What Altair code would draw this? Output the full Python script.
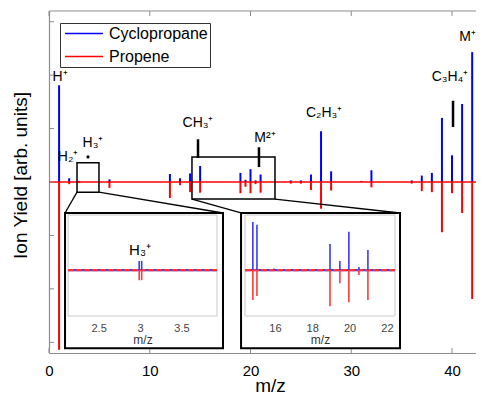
import altair as alt
import pandas as pd

# ---------------- data ----------------
series_names = ["Cyclopropane", "Propene"]
series_colors = ["#0000ff", "#ff0000"]

mz = [1, 2, 3, 6, 12, 13, 14, 15, 19, 19.5, 20, 20.5, 21, 24, 25, 26, 27, 28,
      31, 32, 36, 37, 38, 39, 40, 41, 42, 43]
cyclopropane = [1.81, 0.07, 0.02, 0.05, 0.15, 0.07, 0.16, 0.30, 0.17, 0.04, 0.24,
                0.03, 0.14, 0.03, 0.03, 0.14, 0.95, 0.20, 0.02, 0.22, 0.03, 0.12,
                0.17, 1.20, 0.50, 1.46, 2.43, 0.17]
propene = [-3.14, -0.04, -0.02, -0.11, -0.30, -0.06, -0.19, -0.20, -0.21, -0.09,
           -0.21, -0.04, -0.20, -0.03, -0.03, -0.15, -0.50, -0.16, 0.0, -0.10,
           -0.03, -0.17, -0.19, -0.94, -0.21, -0.58, -2.19, -0.15]

# inset 1 (around m/z 3)
inset1_mz = [2.99, 3.02]
inset1_cyclo = [0.30, 0.30]
inset1_prop = [-0.33, -0.33]

# inset 2 (m/z 14.5 - 22)
inset2_mz = [14.82, 15.04, 15.95, 18.95, 19.48, 19.96, 20.5, 20.98, 21.5]
inset2_cyclo = [1.57, 1.48, 0.05, 0.85, 0.30, 1.25, 0.10, 0.66, 0.03]
inset2_prop = [-0.98, -0.85, 0.0, -1.18, -0.43, -1.05, -0.16, -0.98, 0.0]

# ion labels
ion_labels = ["H\u207a", "H\u2082\u207a", "H\u2083\u207a", "CH\u2083\u207a",
              "M\u00b2\u207a", "C\u2082H\u2083\u207a", "C\u2083H\u2084\u207a", "M\u207a"]
label_mz = [1.09, 1.89, 4.37, 14.79, 21.44, 27.3, 39.8, 41.55]
label_y = [1.96, 0.47, 0.73, 1.10, 0.82, 1.29, 1.96, 2.71]

# black marker bars
marker_mz = [14.79, 20.84, 40.1]
marker_lo = [0.45, 0.28, 1.03]
marker_hi = [0.80, 0.65, 1.52]

# small dot below H3+ label
dot_mz = [3.87]
dot_y = [0.47]

x_ticks = [0, 10, 20, 30, 40]
y_ticks = [-3, -2, -1, 0, 1, 2, 3]

# ---------------- layout ----------------
W, H = 427, 342
XMAX = 42.38
AX_COL = "#8c8c8c"

zoom_boxes = pd.DataFrame({"x0": [2.78, 14.19], "x1": [4.96, 22.43],
                           "y0": [-0.19, -0.32], "y1": [0.36, 0.47]})
inset_boxes = pd.DataFrame({"x0": [1.59, 19.06], "x1": [17.27, 34.84],
                            "y0": [-3.11, -3.11], "y1": [-0.58, -0.58]})
connectors = pd.DataFrame({"x0": [2.78, 4.96, 14.19, 22.43],
                           "y0": [-0.19, -0.19, -0.32, -0.32],
                           "x1": [1.59, 17.27, 19.06, 34.84],
                           "y1": [-0.58, -0.58, -0.58, -0.58]})

xs = alt.Scale(domain=[0, XMAX], nice=False, zero=False, padding=0)
ys = alt.Scale(domain=[-3.2, 3.2], nice=False, zero=False, padding=0)

x_axis = alt.Axis(title="m/z", values=x_ticks, format="d", ticks=False, grid=False,
                  orient="bottom", domainColor=AX_COL, domainWidth=1.2,
                  labelFontSize=15, labelColor="black", labelPadding=10,
                  labelFlush=False, titleFontSize=19, titleFontWeight="normal",
                  titleColor="black", titleBaseline="alphabetic",
                  titleX=221, titleY=38)
y_axis = alt.Axis(title="Ion Yield [arb. units]", labels=False, ticks=False,
                  grid=False, orient="left", domainColor=AX_COL, domainWidth=1.2,
                  titleFontSize=19, titleFontWeight="normal", titleColor="black",
                  titleBaseline="alphabetic", titleAngle=270, titleX=-23, titleY=164)

df_main = pd.concat([
    pd.DataFrame({"mz": mz, "intensity": cyclopropane, "series": series_names[0]}),
    pd.DataFrame({"mz": mz, "intensity": propene, "series": series_names[1]}),
])

legend = alt.Legend(title=None, orient="none", legendX=11, legendY=12,
                    symbolType="stroke", symbolSize=1444, symbolStrokeWidth=1.5,
                    clipHeight=17, rowPadding=6, padding=2, symbolOffset=2,
                    labelOffset=5, labelFontSize=16, labelColor="black",
                    strokeColor="#333333", fillColor="white")

peaks = alt.Chart(df_main).mark_rule(strokeWidth=2).encode(
    x=alt.X("mz:Q", scale=xs, axis=x_axis),
    y=alt.Y("intensity:Q", scale=ys, axis=y_axis),
    y2=alt.datum(0),
    color=alt.Color("series:N", scale=alt.Scale(domain=series_names, range=series_colors),
                    legend=legend),
)

baseline = alt.Chart(pd.DataFrame({"v": [0]})).mark_rule(color="#ff0000", strokeWidth=1.5).encode(
    y=alt.Y("v:Q", scale=ys, axis=y_axis), x=alt.value(0), x2=alt.value(W))

top_frame = alt.Chart(pd.DataFrame({"v": [3.2]})).mark_rule(color=AX_COL, strokeWidth=1.2).encode(
    y=alt.Y("v:Q", scale=ys, axis=y_axis), x=alt.value(0), x2=alt.value(W))

df_xt = pd.DataFrame({"t": x_ticks})
df_yt = pd.DataFrame({"t": y_ticks})
bottom_ticks = alt.Chart(df_xt).mark_rule(color=AX_COL).encode(
    x=alt.X("t:Q", scale=xs, axis=x_axis), y=alt.value(H), y2=alt.value(H - 5))
top_ticks = alt.Chart(df_xt).mark_rule(color=AX_COL).encode(
    x=alt.X("t:Q", scale=xs, axis=x_axis), y=alt.value(0), y2=alt.value(5))
left_ticks = alt.Chart(df_yt).mark_rule(color=AX_COL).encode(
    y=alt.Y("t:Q", scale=ys, axis=y_axis), x=alt.value(0), x2=alt.value(5))

zoom_rects = alt.Chart(zoom_boxes).mark_rect(fillOpacity=0, stroke="black", strokeWidth=1.5).encode(
    x=alt.X("x0:Q", scale=xs, axis=x_axis), x2="x1:Q",
    y=alt.Y("y0:Q", scale=ys, axis=y_axis), y2="y1:Q")
conn = alt.Chart(connectors).mark_rule(color="black", strokeWidth=1.3).encode(
    x=alt.X("x0:Q", scale=xs, axis=x_axis), x2="x1:Q",
    y=alt.Y("y0:Q", scale=ys, axis=y_axis), y2="y1:Q")
inset_rects = alt.Chart(inset_boxes).mark_rect(fill="white", stroke="black", strokeWidth=2).encode(
    x=alt.X("x0:Q", scale=xs, axis=x_axis), x2="x1:Q",
    y=alt.Y("y0:Q", scale=ys, axis=y_axis), y2="y1:Q")

markers = alt.Chart(pd.DataFrame({"mz": marker_mz, "lo": marker_lo, "hi": marker_hi})).mark_rule(
    color="black", strokeWidth=2.5).encode(
    x=alt.X("mz:Q", scale=xs, axis=x_axis),
    y=alt.Y("lo:Q", scale=ys, axis=y_axis), y2="hi:Q")

dot = alt.Chart(pd.DataFrame({"mz": dot_mz, "v": dot_y})).mark_point(
    filled=True, color="black", size=10, opacity=1).encode(
    x=alt.X("mz:Q", scale=xs, axis=x_axis), y=alt.Y("v:Q", scale=ys, axis=y_axis))

labels = alt.Chart(pd.DataFrame({"mz": label_mz, "v": label_y, "label": ion_labels})).mark_text(
    fontSize=14, color="black", baseline="middle", align="center").encode(
    x=alt.X("mz:Q", scale=xs, axis=x_axis), y=alt.Y("v:Q", scale=ys, axis=y_axis),
    text="label:N")

main = alt.layer(peaks, baseline, top_frame, bottom_ticks, top_ticks, left_ticks,
                 zoom_rects, conn, inset_rects, markers, dot, labels)

# ---------------- insets ----------------
IY_RANGE = [305, 204]
IY_DOMAIN = [-1.5, 1.8]


def make_inset(dom, rng, tick_vals, mzs, cyc, prp, label=None, label_pos=None):
    ixs = alt.Scale(domain=dom, range=rng, nice=False, zero=False, padding=0)
    iys = alt.Scale(domain=IY_DOMAIN, range=IY_RANGE, nice=False, zero=False, padding=0)
    ax = alt.Axis(title="m/z", values=tick_vals, format="~g", orient="bottom",
                  offset=IY_RANGE[0] - H, ticks=False, domain=False, grid=False,
                  labelFontSize=11, labelColor="#444444", labelPadding=6,
                  labelFlush=False, titleFontSize=12, titleFontWeight="normal",
                  titleColor="#333333", titlePadding=1, zindex=2)
    frame = alt.Chart(pd.DataFrame({"x0": [dom[0]], "x1": [dom[1]],
                                    "y0": [IY_DOMAIN[0]], "y1": [IY_DOMAIN[1]]})).mark_rect(
        fillOpacity=0, stroke="#c8c8c8", strokeWidth=1).encode(
        x=alt.X("x0:Q", scale=ixs, axis=ax), x2="x1:Q",
        y=alt.Y("y0:Q", scale=iys, axis=None), y2="y1:Q")
    base_df = pd.DataFrame({"x0": [dom[0]], "x1": [dom[1]], "v": [0]})
    base_b = alt.Chart(base_df).mark_rule(color="#3344ff", strokeWidth=2.4).encode(
        x=alt.X("x0:Q", scale=ixs, axis=ax), x2="x1:Q",
        y=alt.Y("v:Q", scale=iys, axis=None))
    base_r = alt.Chart(base_df).mark_rule(color="#ff3333", strokeWidth=2.4,
                                          strokeDash=[6, 2]).encode(
        x=alt.X("x0:Q", scale=ixs, axis=ax), x2="x1:Q",
        y=alt.Y("v:Q", scale=iys, axis=None))
    pk_b = alt.Chart(pd.DataFrame({"mz": mzs, "v": cyc})).mark_rule(
        color="#3a3aff", strokeWidth=1.6).encode(
        x=alt.X("mz:Q", scale=ixs, axis=ax), y=alt.Y("v:Q", scale=iys, axis=None),
        y2=alt.datum(0))
    pk_r = alt.Chart(pd.DataFrame({"mz": mzs, "v": prp})).mark_rule(
        color="#ff3a3a", strokeWidth=1.6).encode(
        x=alt.X("mz:Q", scale=ixs, axis=ax), y=alt.Y("v:Q", scale=iys, axis=None),
        y2=alt.datum(0))
    layers = [frame, base_b, base_r, pk_b, pk_r]
    if label is not None:
        lab = alt.Chart(pd.DataFrame({"mz": [label_pos[0]], "v": [label_pos[1]],
                                      "t": [label]})).mark_text(
            fontSize=15, color="black", baseline="middle").encode(
            x=alt.X("mz:Q", scale=ixs, axis=ax), y=alt.Y("v:Q", scale=iys, axis=None),
            text="t:N")
        layers.append(lab)
    return alt.layer(*layers)


inset1 = make_inset([2.13, 3.93], [19, 168], [2.5, 3, 3.5],
                    inset1_mz, inset1_cyclo, inset1_prop,
                    label="H\u2083\u207a", label_pos=(3.0, 0.66))
inset2 = make_inset([14.4, 22.43], [196, 346], [16, 18, 20, 22],
                    inset2_mz, inset2_cyclo, inset2_prop)

chart = alt.layer(main, inset1, inset2).resolve_scale(
    x="independent", y="independent"
).properties(
    width=W, height=H,
    padding={"left": 41, "top": 3, "right": 0, "bottom": 43},
    autosize=alt.AutoSizeParams(type="none"),
).configure(font="Liberation Sans").configure_view(stroke=None)

chart.save("out.html", embed_options={"renderer": "svg", "actions": False})
